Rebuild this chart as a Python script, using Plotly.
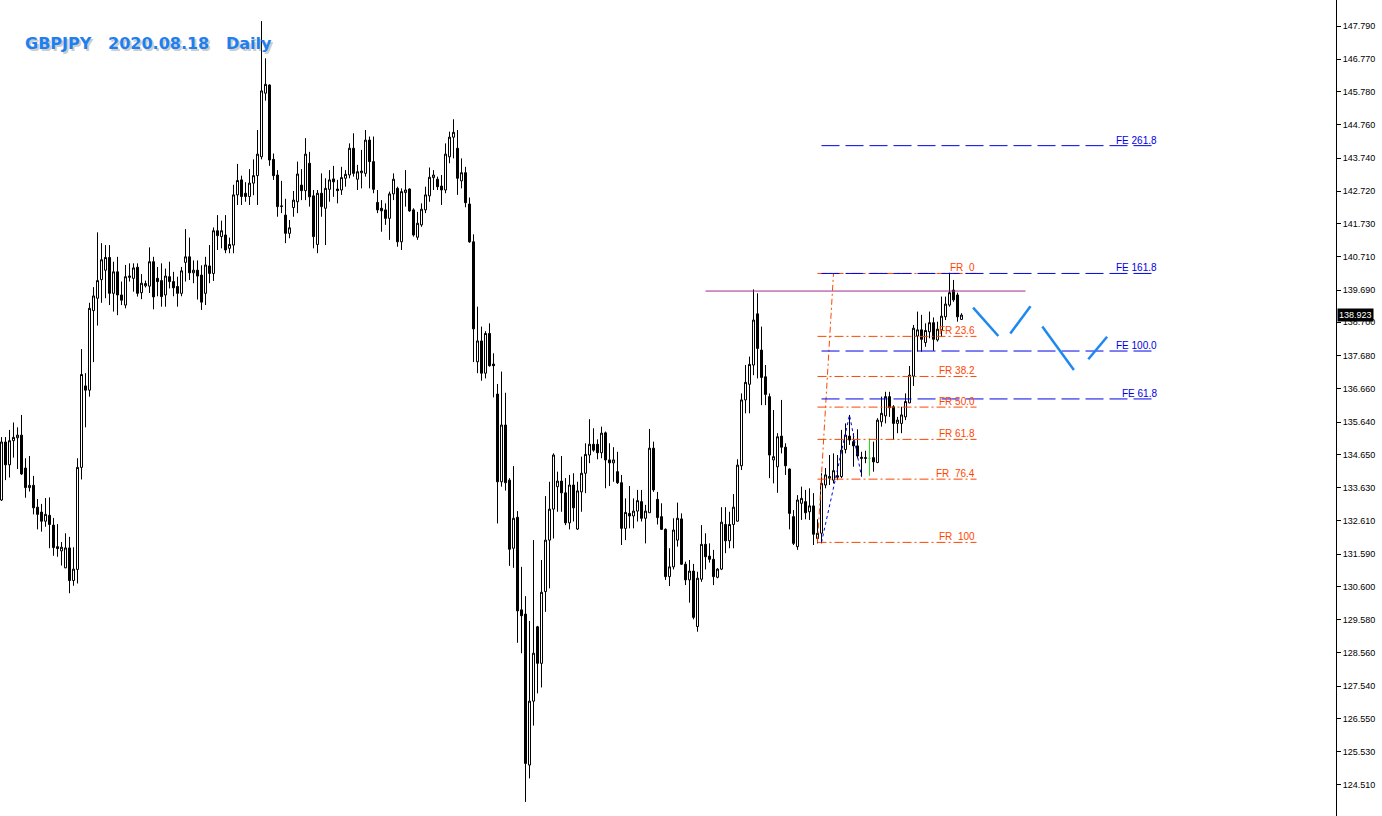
import plotly.graph_objects as go

# daily GBPJPY candles (oldest first)
opens = [
    133.25, 135.03, 134.33, 135.07, 135.16, 135.24, 134.23, 133.63, 133.70, 133.03,
    132.88, 132.60, 132.78, 132.48, 131.82, 131.69, 131.17, 131.78, 130.78, 131.12,
    134.25, 136.75, 136.62, 139.06, 139.44, 140.01, 140.30, 140.69, 139.59, 140.25,
    139.54, 139.23, 140.08, 140.05, 140.39, 139.61, 139.82, 139.81, 140.56, 140.05,
    139.98, 139.54, 140.10, 139.95, 139.80, 139.59, 140.54, 140.71, 140.22, 140.30,
    140.15, 139.59, 140.43, 140.20, 141.51, 141.33, 141.38, 140.97, 141.07, 142.61,
    143.07, 142.66, 142.56, 142.97, 143.20, 143.78, 145.73, 145.98, 143.70, 143.22,
    142.27, 141.99, 141.43, 142.22, 142.40, 142.91, 142.74, 143.58, 142.58, 141.09,
    142.66, 142.20, 142.78, 143.10, 142.79, 142.76, 143.12, 143.22, 144.04, 143.09,
    143.29, 143.27, 144.29, 143.63, 142.38, 142.20, 142.15, 141.89, 142.64, 142.81,
    141.17, 142.68, 142.79, 142.15, 141.31, 141.69, 142.15, 142.58, 143.14, 143.09,
    142.88, 142.76, 143.78, 144.38, 144.04, 143.04, 143.29, 142.33, 141.17, 137.49,
    138.13, 137.14, 138.36, 137.42, 136.50, 133.81, 135.55, 133.86, 131.77, 132.72,
    129.88, 129.75, 125.12, 127.08, 129.36, 128.24, 130.44, 132.02, 132.97, 133.66,
    133.83, 133.47, 132.55, 133.71, 132.36, 133.50, 134.07, 134.63, 134.96, 134.96,
    134.70, 135.31, 134.48, 134.39, 134.12, 133.78, 132.38, 132.84, 132.76, 132.91,
    133.20, 132.69, 132.86, 134.84, 133.27, 132.74, 132.35, 130.90, 131.20, 132.02,
    132.67, 131.28, 130.80, 131.07, 129.37, 130.82, 131.89, 131.53, 131.43, 130.88,
    131.13, 132.50, 132.00, 132.50, 132.60, 134.30, 136.32, 136.80, 137.39, 138.96,
    137.85, 137.03, 136.42, 134.48, 134.27, 135.21, 134.87, 134.20, 132.74, 131.82,
    133.15, 133.20, 132.89, 133.07, 132.07, 132.23, 133.71, 133.92, 133.86, 133.95,
    133.97, 134.80, 135.21, 135.04, 134.91, 134.56, 134.55, 134.53, 134.55, 134.40,
    135.65, 135.83, 136.42, 136.11, 135.60, 135.60, 135.80, 136.23, 137.05, 138.28,
    138.47, 138.08, 138.41, 138.69, 138.16, 138.47, 138.87, 139.23, 139.69, 139.54,
    138.79,
]
highs = [
    135.18, 135.18, 135.40, 135.63, 135.48, 135.86, 134.53, 134.60, 133.99, 133.28,
    133.13, 133.31, 133.33, 132.70, 132.51, 131.96, 132.23, 132.12, 131.80, 134.53,
    137.88, 137.14, 139.30, 139.78, 141.46, 141.13, 141.07, 141.07, 140.56, 140.71,
    139.95, 140.46, 140.51, 140.51, 140.51, 140.18, 139.98, 141.00, 140.71, 140.40,
    140.51, 140.35, 140.56, 140.25, 140.10, 140.40, 141.56, 141.30, 140.60, 140.60,
    140.45, 140.71, 141.07, 141.61, 141.99, 141.82, 141.99, 141.30, 142.92, 143.56,
    143.20, 143.00, 143.40, 143.70, 144.60, 147.94, 146.80, 146.00, 143.88, 143.37,
    143.04, 142.49, 141.84, 142.73, 143.63, 143.40, 144.35, 143.93, 142.76, 142.76,
    143.27, 143.12, 143.37, 143.50, 143.07, 143.47, 143.37, 144.19, 144.50, 143.53,
    143.99, 144.60, 144.40, 144.40, 142.76, 142.45, 142.35, 142.71, 143.27, 142.86,
    142.81, 143.37, 142.81, 142.20, 142.09, 142.35, 142.86, 143.45, 143.37, 143.17,
    143.22, 144.19, 144.55, 144.93, 144.60, 143.73, 143.47, 142.53, 141.40, 139.18,
    138.57, 138.43, 138.67, 137.75, 136.81, 137.19, 136.54, 133.92, 134.29, 132.91,
    131.20, 130.30, 129.54, 132.02, 129.39, 131.41, 133.37, 133.81, 134.68, 134.12,
    134.60, 133.92, 134.02, 134.07, 133.81, 134.58, 134.99, 135.73, 135.45, 135.11,
    135.50, 135.35, 134.99, 134.87, 134.73, 134.02, 133.30, 133.68, 133.30, 133.56,
    133.56, 133.10, 135.43, 135.04, 133.50, 133.15, 132.38, 131.77, 132.69, 133.17,
    132.84, 131.36, 131.41, 131.29, 131.05, 132.48, 132.23, 131.92, 131.72, 131.16,
    133.03, 133.03, 132.89, 133.43, 134.50, 136.52, 137.39, 137.65, 139.71, 139.59,
    138.57, 137.39, 136.52, 136.01, 135.30, 136.32, 134.99, 134.22, 132.94, 133.40,
    133.66, 133.56, 133.61, 133.46, 132.66, 134.07, 134.23, 134.63, 134.68, 134.63,
    135.40, 135.60, 135.86, 135.30, 135.42, 134.73, 134.76, 135.14, 135.04, 135.76,
    136.42, 136.57, 136.57, 136.16, 135.80, 136.11, 136.52, 137.36, 138.62, 139.03,
    138.93, 138.67, 139.03, 138.85, 138.72, 139.49, 139.49, 140.22, 140.00, 139.61,
    138.98,
]
lows = [
    133.22, 133.86, 133.94, 134.55, 134.20, 134.02, 133.32, 133.51, 132.81, 132.35,
    132.28, 132.43, 131.77, 131.54, 131.51, 131.24, 131.16, 130.39, 130.62, 130.69,
    133.88, 135.48, 136.42, 137.48, 138.60, 139.30, 139.44, 139.23, 139.03, 138.92,
    139.23, 139.13, 139.95, 139.64, 139.49, 139.41, 139.77, 139.60, 139.10, 139.50,
    139.18, 139.18, 139.74, 139.50, 139.18, 139.50, 139.95, 140.00, 139.90, 139.40,
    139.08, 139.23, 139.90, 139.97, 140.92, 140.97, 140.82, 140.82, 140.82, 142.30,
    142.30, 142.40, 142.30, 142.60, 142.30, 143.70, 145.50, 143.50, 143.07, 141.94,
    142.05, 141.13, 141.28, 141.94, 142.05, 142.45, 142.45, 142.25, 140.97, 140.82,
    141.94, 141.07, 142.40, 142.55, 142.35, 142.61, 142.86, 143.12, 143.17, 142.76,
    142.81, 143.17, 142.81, 142.66, 142.05, 141.48, 141.69, 141.23, 142.45, 141.02,
    140.92, 142.25, 142.09, 141.33, 141.23, 141.63, 142.05, 142.40, 142.76, 142.76,
    142.30, 142.66, 143.58, 143.73, 142.61, 142.81, 142.23, 141.14, 137.48, 137.14,
    136.91, 136.98, 137.34, 136.40, 132.53, 133.66, 133.54, 131.23, 131.17, 128.87,
    128.55, 123.99, 124.71, 126.33, 127.32, 127.50, 129.82, 130.54, 132.07, 132.89,
    132.89, 132.48, 132.35, 132.59, 132.33, 132.89, 133.46, 134.38, 134.73, 134.50,
    134.53, 133.61, 133.68, 133.81, 133.74, 131.87, 132.02, 132.38, 132.38, 132.59,
    132.59, 131.92, 132.86, 133.50, 132.50, 132.33, 130.80, 130.61, 131.12, 131.82,
    131.26, 130.64, 130.10, 129.59, 129.21, 130.74, 131.12, 131.33, 130.64, 130.85,
    131.10, 131.62, 131.77, 131.77, 132.59, 134.17, 135.91, 135.91, 137.08, 136.98,
    136.16, 136.16, 133.92, 133.76, 133.47, 134.68, 134.02, 132.35, 131.87, 131.72,
    132.64, 132.66, 132.64, 131.87, 131.92, 131.92, 133.61, 133.71, 133.76, 133.86,
    133.92, 134.68, 134.94, 134.27, 134.53, 133.97, 134.38, 133.99, 134.12, 134.38,
    135.50, 135.60, 135.80, 135.09, 135.30, 135.30, 135.70, 136.22, 136.75, 137.80,
    137.80, 137.95, 138.21, 137.83, 138.11, 138.26, 138.77, 139.18, 139.33, 138.72,
    138.77,
]
closes = [
    135.03, 134.33, 135.07, 135.17, 135.24, 134.05, 133.63, 133.70, 133.01, 132.81,
    132.60, 132.81, 132.50, 131.79, 131.76, 131.80, 131.78, 130.78, 131.13, 134.25,
    137.10, 136.62, 139.13, 139.51, 139.98, 140.62, 140.69, 139.59, 140.25, 139.54,
    139.38, 140.10, 140.12, 140.37, 139.59, 139.90, 139.89, 140.56, 139.48, 139.95,
    139.49, 140.12, 139.95, 139.76, 139.59, 140.28, 140.71, 140.22, 140.30, 140.12,
    139.32, 140.46, 140.20, 141.51, 141.36, 141.51, 140.92, 141.09, 142.61, 143.05,
    142.56, 142.56, 142.97, 143.20, 143.86, 145.80, 146.00, 143.68, 143.20, 142.25,
    142.26, 141.43, 141.60, 142.45, 143.25, 142.74, 143.86, 142.55, 141.33, 142.66,
    142.25, 142.81, 143.07, 143.01, 142.74, 143.14, 143.24, 144.04, 143.27, 143.32,
    143.34, 144.29, 143.63, 142.78, 142.15, 142.12, 141.89, 142.64, 143.09, 141.17,
    142.71, 142.76, 142.12, 141.38, 141.74, 142.17, 142.61, 143.15, 143.22, 142.86,
    142.76, 143.86, 144.38, 144.53, 143.12, 143.29, 142.37, 141.17, 138.50, 138.13,
    137.14, 138.36, 137.37, 137.37, 133.81, 135.55, 133.78, 131.74, 132.69, 129.85,
    129.70, 125.17, 127.08, 128.55, 128.24, 130.42, 132.02, 132.97, 134.63, 133.83,
    133.47, 132.55, 133.71, 133.01, 133.53, 134.07, 134.65, 134.96, 134.78, 134.70,
    135.30, 134.48, 134.39, 134.48, 133.78, 132.38, 132.87, 132.76, 132.91, 133.23,
    132.69, 132.91, 134.84, 133.56, 132.71, 132.35, 130.90, 131.20, 132.33, 132.69,
    131.28, 130.80, 131.07, 129.65, 130.85, 131.89, 131.51, 131.43, 130.90, 131.13,
    132.57, 132.00, 132.50, 133.03, 134.32, 136.32, 136.86, 137.41, 138.77, 137.90,
    137.01, 136.49, 134.63, 134.58, 135.19, 134.87, 134.30, 132.84, 131.92, 133.25,
    133.30, 132.86, 133.07, 132.20, 132.23, 133.76, 134.02, 133.97, 134.15, 133.99,
    134.78, 135.24, 135.09, 134.91, 134.60, 134.53, 134.53, 134.53, 134.42, 135.70,
    135.91, 136.42, 136.08, 135.60, 135.70, 135.86, 136.27, 137.08, 138.52, 138.47,
    138.18, 138.45, 138.69, 138.18, 138.49, 138.89, 139.26, 139.61, 139.39, 138.87,
    138.923,
]
bars = list(range(len(opens)))

price_ticks = [147.790, 146.770, 145.780, 144.760, 143.740, 142.720, 141.730, 140.710,
               139.690, 138.700, 137.680, 136.660, 135.640, 134.650, 133.630, 132.610,
               131.590, 130.600, 129.580, 128.560, 127.540, 126.550, 125.530, 124.510]
last_price = 138.923

# Fibonacci retracement (bar 204 low -> bar 237 high)
fr_labels = ["FR\u00a0\u00a00", "FR 23.6", "FR 38.2", "FR 50.0", "FR 61.8",
             "FR\u00a0\u00a076.4", "FR\u00a0\u00a0100"]
fr_prices = [140.20, 138.27, 137.04, 136.10, 135.11, 133.89, 131.95]
fr_span = [204, 243.75]
fr_trend_x = [204, 208]
fr_trend_y = [131.95, 140.20]

# Fibonacci expansion
fe_labels = ["FE 261.8", "FE 161.8", "FE 100.0", "FE 61.8"]
fe_prices = [144.12, 140.20, 137.82, 136.35]
fe_span = [205, 288.5]
abc_x = [205, 212, 215]
abc_y = [131.95, 135.86, 133.97]

# horizontal line at the previous swing high
hline_x = [176, 256]
hline_y = 139.66

# projected path drawn by hand (4 strokes)
path_x = [[242.9, 249.2], [252.2, 257.25], [260.2, 268.1], [271.7, 276.4]]
path_y = [[139.15, 138.28], [138.36, 139.19], [138.57, 137.24], [137.57, 138.26]]

FR_COLOR = "#FF4500"
FE_COLOR = "#0000E6"
LABEL_FONT = dict(family="Liberation Sans", size=10)

fig = go.Figure()

# regular candles, doji (open == close) drawn separately in lime like MT4
normal = [i for i in bars if opens[i] != closes[i]]
doji = [i for i in bars if opens[i] == closes[i]]

fig.add_trace(go.Candlestick(
    x=[bars[i] for i in normal],
    open=[opens[i] for i in normal],
    high=[highs[i] for i in normal],
    low=[lows[i] for i in normal],
    close=[closes[i] for i in normal],
    increasing=dict(line=dict(color="black", width=1), fillcolor="white"),
    decreasing=dict(line=dict(color="black", width=1), fillcolor="black"),
    whiskerwidth=0, showlegend=False, hoverinfo="skip",
))

for i in doji:
    fig.add_trace(go.Scatter(
        x=[bars[i], bars[i], None, bars[i] - 0.3, bars[i] + 0.3],
        y=[highs[i], lows[i], None, opens[i], opens[i]],
        mode="lines", line=dict(color="#22DD22", width=1),
        showlegend=False, hoverinfo="skip",
    ))

# swing high line
fig.add_trace(go.Scatter(
    x=hline_x, y=[hline_y, hline_y], mode="lines",
    line=dict(color="#A0288C", width=1), showlegend=False, hoverinfo="skip"))

# retracement levels
for lab, p in zip(fr_labels, fr_prices):
    fig.add_trace(go.Scatter(
        x=fr_span, y=[p, p], mode="lines",
        line=dict(color=FR_COLOR, width=1, dash="9px,3px,2px,3px"),
        showlegend=False, hoverinfo="skip"))
    fig.add_annotation(x=fr_span[1], y=p, text=lab, showarrow=False,
                       xanchor="right", yanchor="bottom", yshift=-2,
                       font=dict(color=FR_COLOR, **LABEL_FONT))
fig.add_trace(go.Scatter(
    x=fr_trend_x, y=fr_trend_y, mode="lines",
    line=dict(color=FR_COLOR, width=1, dash="6px,3px,2px,3px"),
    showlegend=False, hoverinfo="skip"))

# expansion levels
for lab, p in zip(fe_labels, fe_prices):
    fig.add_trace(go.Scatter(
        x=fe_span, y=[p, p], mode="lines",
        line=dict(color=FE_COLOR, width=1, dash="18px,6px"),
        showlegend=False, hoverinfo="skip"))
    fig.add_annotation(x=fe_span[1], y=p, text=lab, showarrow=False,
                       xanchor="right", yanchor="bottom", yshift=-2, xshift=3,
                       font=dict(color=FE_COLOR, **LABEL_FONT))
fig.add_trace(go.Scatter(
    x=abc_x, y=abc_y, mode="lines",
    line=dict(color=FE_COLOR, width=1, dash="3px,3px"),
    showlegend=False, hoverinfo="skip"))

# projection strokes
for px_, py_ in zip(path_x, path_y):
    fig.add_trace(go.Scatter(
        x=px_, y=py_, mode="lines",
        line=dict(color="#1E88F0", width=2.5),
        showlegend=False, hoverinfo="skip"))

# title with a soft shadow
title = "<b>GBPJPY\u00a0\u00a0 2020.08.18\u00a0\u00a0 Daily</b>"
fig.add_annotation(xref="paper", yref="paper", x=0.0175, y=0.947, text=title,
                   showarrow=False, xanchor="left", yanchor="middle",
                   xshift=2, yshift=-2,
                   font=dict(family="DejaVu Sans", size=16, color="rgba(80,80,80,0.30)"))
fig.add_annotation(xref="paper", yref="paper", x=0.0175, y=0.947, text=title,
                   showarrow=False, xanchor="left", yanchor="middle",
                   font=dict(family="DejaVu Sans", size=16, color="#1E80F0"))

# current price tag on the axis
fig.add_annotation(xref="paper", yref="y", x=1, y=last_price, text=f"{last_price:.3f}",
                   showarrow=False, xanchor="left", xshift=1,
                   bgcolor="black", borderpad=1,
                   font=dict(family="Liberation Sans", size=9, color="white"))

fig.update_layout(
    width=1382, height=816,
    margin=dict(l=0, r=46, t=0, b=0),
    plot_bgcolor="white", paper_bgcolor="white",
    showlegend=False,
    boxgap=0.5, boxgroupgap=0,
    xaxis=dict(range=[-0.375, 333.625], visible=False, rangeslider=dict(visible=False),
               fixedrange=True),
    yaxis=dict(range=[123.557, 148.588], side="right",
               tickvals=price_ticks, ticktext=[f"{v:.3f}" for v in price_ticks],
               ticks="outside", ticklen=4, tickcolor="black",
               showline=True, linecolor="black", linewidth=1,
               showgrid=False, zeroline=False,
               tickfont=dict(family="Liberation Sans", size=9, color="black")),
)

# page body has a default 8px margin; drop it so the figure fills the window
fig.write_html("out.html", config={"displayModeBar": False},
               post_script="document.body.style.margin='0px';")
